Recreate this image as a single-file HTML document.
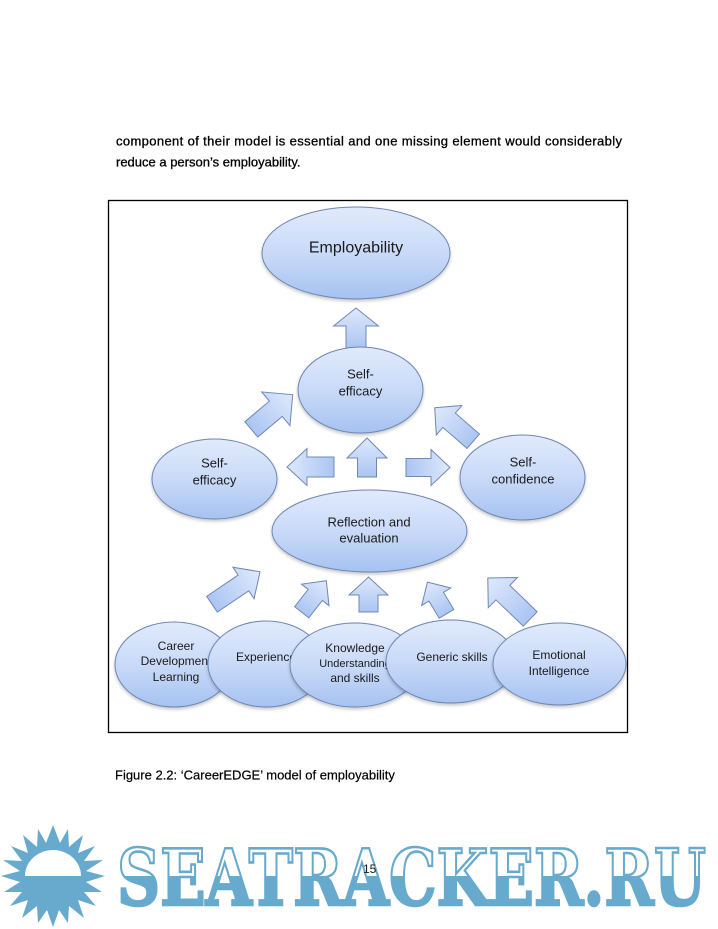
<!DOCTYPE html>
<html>
<head>
<meta charset="utf-8">
<style>
  html,body{margin:0;padding:0;background:#fff;}
  body{width:718px;height:929px;overflow:hidden;position:relative;}
  svg{position:absolute;left:0;top:0;}
  .t{font-family:"Liberation Sans",Arial,sans-serif;fill:#1a1a1a;}
  .b{fill:#000;stroke:#000;stroke-width:0.3;}
</style>
</head>
<body>
<svg width="718" height="929" viewBox="0 0 718 929" xmlns="http://www.w3.org/2000/svg">
  <defs>
    <linearGradient id="g" x1="0" y1="0" x2="0" y2="1">
      <stop offset="0" stop-color="#e1eafc"/>
      <stop offset="0.5" stop-color="#c9daf8"/>
      <stop offset="1" stop-color="#a6c2f1"/>
    </linearGradient>
    <linearGradient id="ga" x1="0" y1="0" x2="0" y2="1">
      <stop offset="0" stop-color="#dfe9fc"/>
      <stop offset="1" stop-color="#aac5f2"/>
    </linearGradient>
    <filter id="sh" x="-10%" y="-10%" width="120%" height="130%">
      <feDropShadow dx="0" dy="2" stdDeviation="1.5" flood-color="#000" flood-opacity="0.22"/>
    </filter>
    <linearGradient id="wm" gradientUnits="userSpaceOnUse" x1="0" y1="848" x2="0" y2="906">
      <stop offset="0" stop-color="#ffffff"/>
      <stop offset="0.48" stop-color="#ffffff"/>
      <stop offset="0.48" stop-color="#67aacd"/>
      <stop offset="1" stop-color="#67aacd"/>
    </linearGradient>
  </defs>

  <!-- body text -->
  <text class="t b" x="116" y="145.5" font-size="13" textLength="506" lengthAdjust="spacing">component of their model is essential and one missing element would considerably</text>
  <text class="t b" x="116" y="166.5" font-size="13">reduce a person’s employability.</text>

  <!-- frame -->
  <rect x="108.5" y="200.5" width="519" height="532" fill="none" stroke="#000" stroke-width="1.3"/>

  <g stroke="#6f88b4" stroke-width="1" fill="url(#ga)">
    <polygon transform="translate(356,328)" points="0,-20 22.5,-2 10,-2 10,20 -10,20 -10,-2 -22.5,-2"/>
    <polygon transform="translate(367,457.5)" points="0,-19.5 20,0.5 9.5,0.5 9.5,19.5 -9.5,19.5 -9.5,0.5 -20,0.5"/>
    <polygon transform="translate(310.5,467) rotate(-90)" points="0,-23.5 18.5,-3.5 10,-3.5 10,23.5 -10,23.5 -10,-3.5 -18.5,-3.5"/>
    <polygon transform="translate(428,467.5) rotate(90)" points="0,-22 18,-3 9,-3 9,22 -9,22 -9,-3 -18,-3"/>
    <polygon transform="translate(272,412) rotate(50)" points="0,-27 22,-5 10,-5 10,27 -10,27 -10,-5 -22,-5"/>
    <polygon transform="translate(454,424.5) rotate(-49)" points="0,-25.5 19.5,-6.5 9.5,-6.5 9.5,25.5 -9.5,25.5 -9.5,-6.5 -19.5,-6.5"/>
    <polygon transform="translate(236,588) rotate(56)" points="0,-29 19,-9 9.5,-9 9.5,29 -9.5,29 -9.5,-9 -19,-9"/>
    <polygon transform="translate(314,596.5) rotate(38)" points="0,-20 17.5,-2 9,-2 9,20 -9,20 -9,-2 -17.5,-2"/>
    <polygon transform="translate(368.5,594.5)" points="0,-17.5 19.5,0.5 9.5,0.5 9.5,17.5 -9.5,17.5 -9.5,0.5 -19.5,0.5"/>
    <polygon transform="translate(437,598) rotate(-31)" points="0,-18.5 17,-1.5 8.5,-1.5 8.5,18.5 -8.5,18.5 -8.5,-1.5 -17,-1.5"/>
    <polygon transform="translate(509,598.5) rotate(-46)" points="0,-29.5 21,-8.5 10,-8.5 10,29.5 -10,29.5 -10,-8.5 -21,-8.5"/>
  </g>

  <g stroke="#6d86b3" stroke-width="1" fill="url(#g)">
    <ellipse cx="356" cy="253" rx="94" ry="46" filter="url(#sh)"/>
    <ellipse cx="360.5" cy="390" rx="62.5" ry="43" filter="url(#sh)"/>
    <ellipse cx="214.5" cy="479" rx="62.5" ry="40" filter="url(#sh)"/>
    <ellipse cx="522.5" cy="477.5" rx="62.5" ry="42.5" filter="url(#sh)"/>
    <ellipse cx="369.5" cy="531" rx="97.5" ry="41" filter="url(#sh)"/>
  </g>

  <text class="t" x="356" y="252.6" font-size="16" text-anchor="middle">Employability</text>
  <text class="t" x="360.5" y="378.5" font-size="13" text-anchor="middle">Self-</text>
  <text class="t" x="360.5" y="395.5" font-size="13" text-anchor="middle">efficacy</text>
  <text class="t" x="214.5" y="467.5" font-size="13" text-anchor="middle">Self-</text>
  <text class="t" x="214.5" y="484.5" font-size="13" text-anchor="middle">efficacy</text>
  <text class="t" x="523" y="466.5" font-size="13" text-anchor="middle">Self-</text>
  <text class="t" x="523" y="483.5" font-size="13" text-anchor="middle">confidence</text>
  <text class="t" x="369" y="526.5" font-size="13" text-anchor="middle">Reflection and</text>
  <text class="t" x="369" y="542.5" font-size="13" text-anchor="middle">evaluation</text>

  <g>
    <ellipse cx="174" cy="664.5" rx="59" ry="42.5" fill="url(#g)" stroke="#6d86b3" filter="url(#sh)"/>
    <text class="t" x="176" y="650" font-size="12" text-anchor="middle">Career</text>
    <text class="t" x="176" y="665" font-size="12" text-anchor="middle">Development</text>
    <text class="t" x="176" y="681" font-size="12" text-anchor="middle">Learning</text>
  </g>
  <g>
    <ellipse cx="266" cy="664" rx="58" ry="43" fill="url(#g)" stroke="#6d86b3" filter="url(#sh)"/>
    <text class="t" x="266" y="661" font-size="12" text-anchor="middle">Experience</text>
  </g>
  <g>
    <ellipse cx="355" cy="665" rx="65" ry="42" fill="url(#g)" stroke="#6d86b3" filter="url(#sh)"/>
    <text class="t" x="355" y="652" font-size="12" text-anchor="middle">Knowledge</text>
    <text class="t" x="355" y="667" font-size="11" text-anchor="middle">Understanding</text>
    <text class="t" x="355" y="682" font-size="12" text-anchor="middle">and skills</text>
  </g>
  <g>
    <ellipse cx="451" cy="661.5" rx="65" ry="41.5" fill="url(#g)" stroke="#6d86b3" filter="url(#sh)"/>
    <text class="t" x="452" y="661" font-size="12" text-anchor="middle">Generic skills</text>
  </g>
  <g>
    <ellipse cx="559.5" cy="664" rx="66.5" ry="41" fill="url(#g)" stroke="#6d86b3" filter="url(#sh)"/>
    <text class="t" x="559" y="659" font-size="12" text-anchor="middle">Emotional</text>
    <text class="t" x="559" y="675" font-size="12" text-anchor="middle">Intelligence</text>
  </g>

  <!-- caption -->
  <text class="t b" x="115" y="779.5" font-size="13" style="stroke-width:0.2">Figure 2.2: ‘CareerEDGE’ model of employability</text>

  <!-- watermark sun -->
  <g transform="translate(53,876)">
    <polygon fill="#67aacd" points="0,-51 7,-33 15,-47 16,-29 30,-41 25,-23 42,-30 31,-15 50,-16 33,-5 52,0 33,6 49,16 31,16 43,30 25,24 31,42 16,30 15,47 6,34 0,51 -6,34 -15,47 -16,30 -31,42 -25,24 -43,30 -31,16 -49,16 -33,6 -52,0 -33,-5 -50,-16 -31,-15 -42,-30 -25,-23 -30,-41 -16,-29 -15,-47 -7,-33"/>
    <path d="M -28,0 A 28 26 0 0 1 28,0 Z" fill="#fff"/>
  </g>

  <!-- watermark text -->
  <text x="117" y="905" font-family="'DejaVu Serif','Liberation Serif',serif" font-weight="bold" font-size="78" textLength="589" lengthAdjust="spacingAndGlyphs" fill="url(#wm)" stroke="#67aacd" stroke-width="2.6">SEATRACKER.RU</text>

  <!-- page number -->
  <text class="t" x="363" y="873" font-size="12" fill="#000">15</text>
</svg>
</body>
</html>
